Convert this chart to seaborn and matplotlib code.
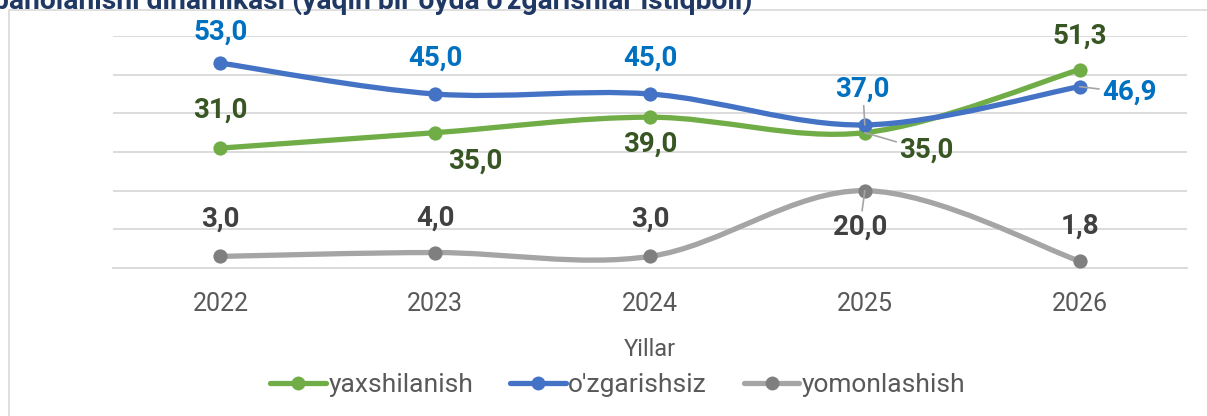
import numpy as np
import pandas as pd
import matplotlib
matplotlib.use('Agg')
import matplotlib.pyplot as plt
from matplotlib.path import Path
from matplotlib.patches import PathPatch, Rectangle
from matplotlib.lines import Line2D
import seaborn as sns

## Data
years = ['2022', '2023', '2024', '2025', '2026']
yaxshilanish = [31.0, 35.0, 39.0, 35.0, 51.3]
ozgarishsiz = [53.0, 45.0, 45.0, 37.0, 46.9]
yomonlashish = [3.0, 4.0, 3.0, 20.0, 1.8]
series_names = ['yaxshilanish', "o'zgarishsiz", 'yomonlashish']
title_text = "baholanishi dinamikasi (yaqin bir oyda o'zgarishlar istiqboli)"
x_title = 'Yillar'

df = pd.DataFrame({
    'year': years * 3,
    'value': yaxshilanish + ozgarishsiz + yomonlashish,
    'series': [s for s in series_names for _ in years],
})

## Styles
line_colors = {'yaxshilanish': '#70AD47', "o'zgarishsiz": '#4472C4', 'yomonlashish': '#A5A5A5'}
marker_colors = {'yaxshilanish': '#70AD47', "o'zgarishsiz": '#4472C4', 'yomonlashish': '#7F7F7F'}
label_colors = {'yaxshilanish': '#375623', "o'zgarishsiz": '#0070C0', 'yomonlashish': '#404040'}
# label offsets in pixels (dx, dy) and whether a leader line is drawn
label_offsets = {
    'yaxshilanish': [(0, 38), (40, -29), (0, -27), (62, -18), (0, 33)],
    "o'zgarishsiz": [(0, 31), (0, 36), (0, 36), (-2, 36), (50, -6)],
    'yomonlashish': [(0, 37), (0, 34), (0, 37), (-5, -37), (0, 35)],
}
leaders = {
    'yaxshilanish': [False, False, False, True, False],
    "o'zgarishsiz": [False, False, False, True, True],
    'yomonlashish': [False, False, False, True, False],
}

sns.set_style('white')
plt.rcParams['font.family'] = ['Roboto', 'DejaVu Sans']
grid_c = '#D9D9D9'
text_c = '#595959'


def smooth_path(xs, ys):
    # Excel-like smoothed line: cubic Bezier segments through the data points
    pts = np.column_stack([xs, ys]).astype(float)
    n = len(pts)
    verts = [pts[0]]
    codes = [Path.MOVETO]
    for i in range(n - 1):
        p0 = pts[max(i - 1, 0)]
        p1 = pts[i]
        p2 = pts[i + 1]
        p3 = pts[min(i + 2, n - 1)]
        verts += [p1 + (p2 - p0) / 6, p2 - (p3 - p1) / 6, p2]
        codes += [Path.CURVE4] * 3
    return Path(verts, codes)


fig = plt.figure(figsize=(12.07, 4.16), dpi=100)
ax = fig.add_axes([113 / 1207, 1 - 268 / 416, 1074 / 1207, 232 / 416])

for k, name in enumerate(series_names):
    sub = df[df['series'] == name]
    sns.scatterplot(data=sub, x='year', y='value', color=marker_colors[name], s=105,
                    linewidth=0, ax=ax, legend=False, zorder=4 + 2 * k, clip_on=False)
    xs = np.arange(len(sub))
    patch = PathPatch(smooth_path(xs, sub['value'].values), facecolor='none',
                      edgecolor=line_colors[name], lw=3.8, capstyle='round',
                      joinstyle='round', zorder=3 + 2 * k)
    ax.add_patch(patch)
    for i, v in enumerate(sub['value'].values):
        dx, dy = label_offsets[name][i]
        arrow = None
        if leaders[name][i]:
            arrow = dict(arrowstyle='-', color='#A5A5A5', lw=1.2, shrinkA=0, shrinkB=0)
        ax.annotate(f'{v:.1f}'.replace('.', ','), xy=(i, v), xytext=(dx, dy),
                    textcoords='offset pixels', ha='center', va='center',
                    fontsize=20, fontweight='bold', color=label_colors[name],
                    arrowprops=arrow, annotation_clip=False, zorder=10)

ax.set_xlim(-0.5, len(years) - 0.5)
ax.set_ylim(0, 60)
ax.set_yticks(np.arange(0, 61, 10))
ax.set_yticklabels([])
ax.tick_params(axis='y', length=0)
ax.grid(axis='y', color=grid_c, lw=1.3)
ax.set_axisbelow(True)
for s in ['top', 'right', 'left']:
    ax.spines[s].set_visible(False)
ax.spines['bottom'].set_color(grid_c)
ax.spines['bottom'].set_linewidth(1.3)
ax.set_xticks(range(len(years)))
ax.set_xticklabels(years)
ax.set_xticks(np.arange(-0.5, len(years), 1), minor=True)
ax.tick_params(axis='x', which='major', length=0, pad=17, labelsize=18, labelcolor=text_c)
ax.tick_params(axis='x', which='minor', length=5.5, width=1.3, color=grid_c, direction='out')
ax.set_xlabel('')
ax.set_ylabel('')

fig.text(650 / 1207, 1 - 349 / 416, x_title, ha='center', va='center', fontsize=17, color=text_c)

handles = [Line2D([0], [0], color=line_colors[n], lw=3.8, marker='o', markersize=10,
                  markerfacecolor=marker_colors[n], markeredgewidth=0) for n in series_names]
fig.legend(handles, series_names, loc='center', bbox_to_anchor=(618 / 1207, 1 - 385 / 416),
           ncol=3, frameon=False, fontsize=19, handlelength=2.1, handletextpad=0.1,
           columnspacing=1.4, labelcolor=text_c)

# chart area border and the title, whose upper part lies above the picture
fig.add_artist(Rectangle((9 / 1207, -0.1), 1.2, 1.1 - 10 / 416, transform=fig.transFigure,
                         fill=False, edgecolor=grid_c, lw=1.2))
fig.text(752 / 1207, 1 - 9 / 416, title_text, ha='right', va='baseline',
         fontsize=20.3, fontweight='bold', color='#1F3864')

fig.savefig('out.png', dpi=100)
